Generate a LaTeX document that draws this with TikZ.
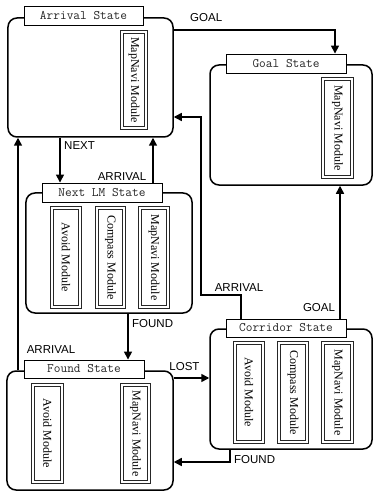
\documentclass[tikz,border=0pt]{standalone}
\usepackage{fontspec}
\setmainfont{Liberation Serif}
\setsansfont{Liberation Sans}
\usetikzlibrary{arrows.meta}
\begin{document}
\begin{tikzpicture}[x=1bp,y=-1bp,
  statebox/.style={draw, line width=1.5bp, rounded corners=9bp, inner sep=0pt},
  titlebox/.style={draw, fill=white, line width=0.9bp, inner sep=0pt, text=black!85, font=\fontsize{13bp}{15bp}\ttfamily},
  modbox/.style={draw=black!85, double, double distance=1.5bp, line width=0.85bp, inner sep=0pt, rotate=-90, font=\fontsize{12bp}{14bp}\rmfamily},
  arr/.style={line width=1.5bp, -{Triangle[length=8bp,width=8bp]}},
  lbl/.style={inner sep=0pt, font=\fontsize{11.5bp}{13bp}\sffamily}]
\useasboundingbox (0,0) rectangle (374,493);
% Arrival
\node[statebox, minimum width=165bp, minimum height=119bp] (arrOut) at (90.5,77.5) {};
\node[titlebox, minimum width=119bp, minimum height=19bp] (arrTitle) at (83.5,15.5) {Arrival State};
\node[modbox, minimum width=96bp, minimum height=24bp] (arrMap) at (134,80) {MapNavi Module};
% Goal
\node[statebox, minimum width=162bp, minimum height=120bp] (goalOut) at (291,125) {};
\node[titlebox, minimum width=120bp, minimum height=19bp] (goalTitle) at (286,63.5) {Goal State};
\node[modbox, minimum width=98bp, minimum height=29bp] (goalMap) at (337.5,128) {MapNavi Module};
% Next LM
\node[statebox, minimum width=166bp, minimum height=120bp] (nextOut) at (109,253) {};
\node[titlebox, minimum width=120bp, minimum height=19bp] (nextTitle) at (102,192.5) {Next LM State};
\node[modbox, minimum width=99bp, minimum height=28bp] (nextAvoid) at (66,257.5) {Avoid Module};
\node[modbox, minimum width=99bp, minimum height=27bp] (nextComp) at (110.5,257.5) {Compass Module};
\node[modbox, minimum width=99bp, minimum height=28bp] (nextMap) at (154,257.5) {MapNavi Module};
% Found
\node[statebox, minimum width=166bp, minimum height=119bp] (foundOut) at (90,430.5) {};
\node[titlebox, minimum width=120bp, minimum height=18bp] (foundTitle) at (84,369) {Found State};
\node[modbox, minimum width=97bp, minimum height=29bp] (foundAvoid) at (47.5,433.5) {Avoid Module};
\node[modbox, minimum width=97bp, minimum height=27bp] (foundMap) at (135.5,433.5) {MapNavi Module};
% Corridor
\node[statebox, minimum width=162bp, minimum height=120bp] (corOut) at (291,389) {};
\node[titlebox, minimum width=120bp, minimum height=18bp] (corTitle) at (286,328) {Corridor State};
\node[modbox, minimum width=99bp, minimum height=28bp] (corAvoid) at (249,392.5) {Avoid Module};
\node[modbox, minimum width=99bp, minimum height=28bp] (corComp) at (293,392.5) {Compass Module};
\node[modbox, minimum width=99bp, minimum height=29bp] (corMap) at (337.5,392.5) {MapNavi Module};
% helper coordinates
\coordinate (g1) at (335,30);
\coordinate (n1) at (60,0);
\coordinate (a1) at (153,0);
\coordinate (a2) at (18,0);
\coordinate (f1) at (128,0);
\coordinate (l1) at (0,378);
\coordinate (f2) at (230,462);
\coordinate (c1) at (241,295);
\coordinate (c2) at (201,117);
\coordinate (g2) at (340,0);
% connectors
\draw[arr] (arrOut.east |- g1) -- (g1) -- (goalTitle.north -| g1);
\draw[arr] (arrOut.south -| n1) -- (nextTitle.north -| n1);
\draw[arr] (nextTitle.north -| a1) -- (arrOut.south -| a1);
\draw[arr] (foundOut.north -| a2) -- (arrOut.south -| a2);
\draw[arr] (nextOut.south -| f1) -- (foundTitle.north -| f1);
\draw[arr] (foundOut.east |- l1) -- (corOut.west |- l1);
\draw[arr] (corOut.south -| f2) -- (f2) -- (foundOut.east |- f2);
\draw[arr] (corTitle.north -| c1) -- (c1) -| (c2) -- (arrOut.east |- c2);
\draw[arr] (corTitle.north -| g2) -- (goalOut.south -| g2);
% labels
\node[lbl, anchor=west] (lGoal1) at (190,18) {GOAL};
\node[lbl, anchor=west] (lNext) at (64,146) {NEXT};
\node[lbl] (lArr1) at (122,177) {ARRIVAL};
\node[lbl] (lArr2) at (51,350) {ARRIVAL};
\node[lbl, anchor=west] (lFound1) at (132,324) {FOUND};
\node[lbl] (lLost) at (184.5,367) {LOST};
\node[lbl, anchor=west] (lFound2) at (234,460) {FOUND};
\node[lbl] (lArr3) at (239,288) {ARRIVAL};
\node[lbl] (lGoal2) at (319,308) {GOAL};
\end{tikzpicture}
\end{document}
